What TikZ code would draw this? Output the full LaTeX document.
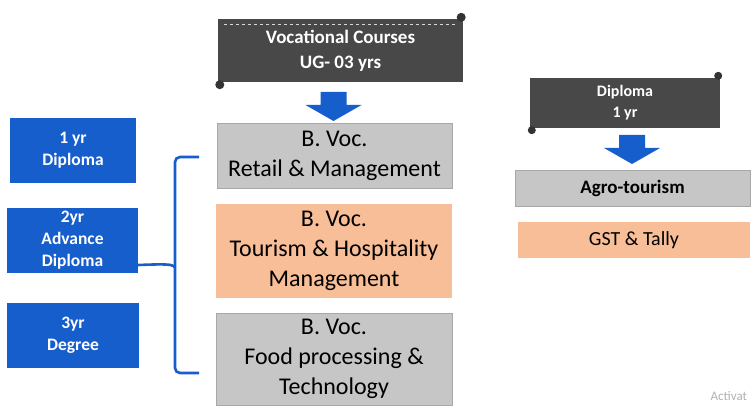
\documentclass[tikz,border=0pt]{standalone}
\usepackage{fontspec}
\setmainfont{Carlito}
\usetikzlibrary{arrows.meta, positioning, calc}
\definecolor{scrollgray}{RGB}{72,72,72}
\definecolor{boxgray}{RGB}{198,198,198}
\definecolor{peach}{RGB}{248,190,152}
\definecolor{royalblue}{RGB}{22,94,204}
\tikzset{
  scrollbox/.style={fill=scrollgray, text=white, font=\bfseries\fontsize{19}{25}\selectfont, align=center, inner sep=0pt},
  graybox/.style={fill=boxgray, draw=boxgray!85!black, line width=0.4pt, align=center, inner sep=0pt, font=\fontsize{24}{30}\selectfont},
  peachbox/.style={fill=peach, align=center, inner sep=0pt, font=\fontsize{24}{30}\selectfont},
  bluebox/.style={fill=royalblue, text=white, align=center, inner sep=0pt, font=\bfseries\fontsize{17.5}{22}\selectfont},
  blockarrow/.style={fill=royalblue},
  curl/.style={fill=black!80}
}
\begin{document}
\begin{tikzpicture}[x=1pt, y=-1pt]
  \useasboundingbox[fill=white] (0,0) rectangle (753,409);
  % Scroll headings
  \node[scrollbox, minimum width=245pt, minimum height=63pt] (voc) at (340.5,51) {Vocational Courses\\UG- 03 yrs};
  \fill[curl] (voc.north east) ++(-2,-2) circle (4.5pt);
  \fill[curl] (voc.south west) ++(2,2) circle (4.5pt);
  \draw[white!70!gray, dashed, line width=0.5pt] ($(voc.north west)+(6,5)$) -- ($(voc.north east)+(-6,5)$);

  \node[scrollbox, minimum width=190pt, minimum height=50pt, font=\bfseries\fontsize{16}{21}\selectfont] (dip) at (625,103) {Diploma\\1 yr};
  \fill[curl] (dip.north east) ++(-2,-2) circle (4pt);
  \fill[curl] (dip.south west) ++(2,2) circle (4pt);

  % Course boxes
  \node[graybox, minimum width=235pt, minimum height=65pt] (retail) at (334.5,155.5) {B. Voc.\\Retail \& Management};
  \node[peachbox, minimum width=236pt, minimum height=94pt] (tourism) at (334,251) {B. Voc.\\Tourism \& Hospitality\\Management};
  \node[graybox, minimum width=236pt, minimum height=92pt] (food) at (334,359) {B. Voc.\\Food processing \&\\Technology};

  \node[graybox, minimum width=235pt, minimum height=36pt, font=\bfseries\fontsize{19}{24}\selectfont] (agro) at (632.5,188) {Agro-tourism};
  \node[peachbox, minimum width=232pt, minimum height=36pt, font=\fontsize{20}{24}\selectfont] (gst) at (634,240) {GST \& Tally};

  % Block arrows
  \coordinate (a1) at (333.5,92);
  \coordinate (a2) at (632,135);
  \fill[blockarrow, shift={(a1)}] (-13,0) -- (13,0) -- (13,13) -- (28,13) -- (0,29) -- (-28,13) -- (-13,13) -- cycle;
  \fill[blockarrow, shift={(a2)}] (-13,0) -- (13,0) -- (13,13) -- (28,13) -- (0,29) -- (-28,13) -- (-13,13) -- cycle;

  % Exit levels
  \node[bluebox, minimum width=126pt, minimum height=65pt] (one) at (73,150.5) {1 yr\\Diploma};
  \node[bluebox, minimum width=131pt, minimum height=65pt] (two) at (72.5,240.5) {2yr\\Advance\\Diploma};
  \node[bluebox, minimum width=132pt, minimum height=65pt] (three) at (73,335.5) {3yr\\Degree};

  % Bracket
  \coordinate (btop) at (199,157);
  \coordinate (bbot) at (199,373);
  \draw[royalblue, line width=2.6pt, rounded corners=5pt] (btop) -- (175,157) -- (175,373) -- (bbot);
  \draw[royalblue, line width=2.6pt] (two.east |- 0,265) .. controls (165,264) and (172,264) .. (175,267);

  \node[text=gray!60, font=\fontsize{13}{15}\selectfont, anchor=west] (wm) at (707,396) {Activat};
\end{tikzpicture}
\end{document}
